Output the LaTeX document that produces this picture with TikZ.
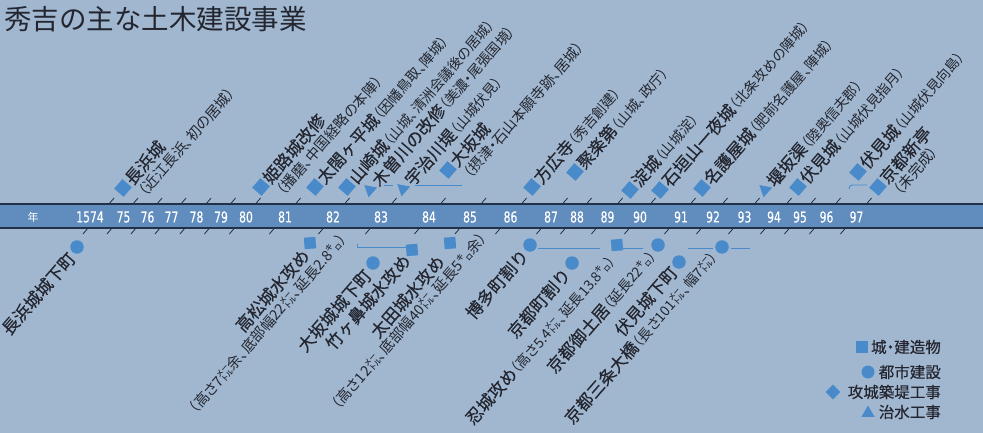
\documentclass[tikz,border=0pt]{standalone}
\usepackage{fontspec}
\setmainfont{Noto Sans CJK JP}
\newfontfamily\jpn{Noto Sans CJK JP}
\newfontfamily\jpb[FakeBold=0.3]{Noto Sans CJK JP}
\newfontfamily\jps[RawFeature=+palt]{Noto Sans CJK JP}
\newfontfamily\jpsb[RawFeature=+palt,FakeBold=0.4]{Noto Sans CJK JP}
\newfontfamily\yrfont[FakeStretch=0.72,FakeBold=0.4]{DejaVu Sans}
\usetikzlibrary{shapes.geometric,calc}
\definecolor{bg}{RGB}{161,183,207}
\definecolor{bandc}{RGB}{96,140,190}
\definecolor{edgec}{RGB}{34,48,72}
\definecolor{mk}{RGB}{72,138,202}
\definecolor{txt}{RGB}{35,38,48}
\tikzset{
 sqm/.style={fill=mk, rectangle, minimum size=12.5pt, inner sep=0, rotate=49},
 dia/.style={fill=mk, rectangle, minimum size=11.5pt, inner sep=0, rotate=4},
 cir/.style={fill=mk, circle, minimum size=13.5pt, inner sep=0},
 tri/.style={fill=mk, regular polygon, regular polygon sides=3, minimum size=15pt, inner sep=0, rotate=49},
 lbl/.style={rotate=49, inner sep=0, text=txt, font=\jpb\fontsize{17}{17}\selectfont},
 sub/.style={rotate=49, inner sep=0, text=txt, font=\jps\fontsize{14.5}{14.5}\selectfont},
 dur/.style={draw=mk, line width=0.9pt},
 tickl/.style={draw=edgec, line width=0.8pt},
 yr/.style={text=white, font=\yrfont\fontsize{15}{15}\selectfont, inner sep=0},
 leg/.style={text=txt, font=\jpsb\fontsize{15.5}{15.5}\selectfont, inner sep=0, anchor=east},
}
\newcommand\sm[1]{{\jps\fontsize{14}{14}\selectfont #1}}
\begin{document}
\begin{tikzpicture}[x=1pt,y=-1pt]
\fill[bg] (0,0) rectangle (983,433);
\useasboundingbox (0,0) rectangle (983,433);
% title
\node[anchor=west, inner sep=0, text=txt, font=\jpn\fontsize{27.5}{27.5}\selectfont] (title) at (4,19) {秀吉の主な土木建設事業};
% band
\fill[bandc] (0,204) rectangle (983,228);
\draw[edgec, line width=1.5pt] (0,204) -- (983,204);
\draw[edgec, line width=1.5pt] (0,228) -- (983,228);
\foreach \x in {98.5,122.5,146.5,170.5,195.5,220,245,285,334,381,430,470.5,511,552,576,607,640,680,712,744,776,800,825,856}{
  \draw[tickl] ({\x+11.3},203) -- ({\x+15.6},198);
  \draw[tickl] ({\x-11.3},229) -- ({\x-15.6},234);
}
\node[yr, font=\jpn\fontsize{11}{11}\selectfont] (nen) at (33,217) {年};
\foreach \x/\t [count=\i] in {90/1574,123.5/75,147.5/76,171.5/77,196.5/78,221/79,246/80,285/81,333/82,381/83,429/84,470/85,510.5/86,551/87,577/88,607.5/89,640/90,681/91,713/92,744.5/93,774/94,800/95,826.5/96,856.5/97}
  \node[yr] (y\i) at (\x,217) {\t};
% upper items
\node[sqm] (m1) at (123,188) {};
\node[lbl,anchor=west] (t1) at ($(m1)+(5,-6)$) {長浜城};
\node[sub,anchor=west] (s1) at ($(t1.west)+(13.6,11.8)$) {（近江長浜、初の居城）};
\node[sqm] (m2) at (261,187) {};
\node[lbl,anchor=west] (t2) at ($(m2)+(5,-6)$) {姫路城改修};
\node[sub,anchor=west] (s2) at ($(t2.west)+(13.6,11.8)$) {（播磨、中国経略の本陣）};
\node[sqm] (m3) at (315,187) {};
\node[lbl,anchor=west] (t3) at ($(m3)+(5,-6)$) {太閤ヶ平城\sm{（因幡鳥取、陣城）}};
\node[sqm] (m4) at (347,187) {};
\node[lbl,anchor=west] (t4) at ($(m4)+(5,-6)$) {山崎城\sm{（山城、清洲会議後の居城）}};
\node[tri] (m5) at (370,190) {};
\node[lbl,anchor=west] (t5) at ($(m5)+(5,-6)$) {木曽川の改修\sm{（美濃・尾張国境）}};
\node[tri] (m6) at (403,189) {};
\node[lbl,anchor=west] (t6) at ($(m6)+(5,-6)$) {宇治川堤\sm{（山城伏見）}};
\node[sqm] (m7) at (448,170) {};
\node[lbl,anchor=west] (t7) at ($(m7)+(5,-6)$) {大坂城};
\node[sub,anchor=west] (s7) at ($(t7.west)+(13.6,11.8)$) {（摂津・石山本願寺跡、居城）};
\node[sqm] (m8) at (532,187) {};
\node[lbl,anchor=west] (t8) at ($(m8)+(5,-6)$) {方広寺\sm{（秀吉創建）}};
\node[sqm] (m9) at (575,172) {};
\node[lbl,anchor=west] (t9) at ($(m9)+(5,-6)$) {聚楽第\sm{（山城、政庁）}};
\node[sqm] (m10) at (630,190) {};
\node[lbl,anchor=west] (t10) at ($(m10)+(5,-6)$) {淀城\sm{（山城淀）}};
\node[sqm] (m11) at (660,190) {};
\node[lbl,anchor=west] (t11) at ($(m11)+(5,-6)$) {石垣山一夜城\sm{（北条攻めの陣城）}};
\node[sqm] (m12) at (702,188) {};
\node[lbl,anchor=west] (t12) at ($(m12)+(5,-6)$) {名護屋城\sm{（肥前名護屋、陣城）}};
\node[tri] (m13) at (765,190) {};
\node[lbl,anchor=west] (t13) at ($(m13)+(5,-6)$) {堰坂渠\sm{（陸奥信夫郡）}};
\node[sqm] (m14) at (798,187) {};
\node[lbl,anchor=west] (t14) at ($(m14)+(5,-6)$) {伏見城\sm{（山城伏見指月）}};
\node[sqm] (m15) at (858,172) {};
\node[lbl,anchor=west] (t15) at ($(m15)+(5,-6)$) {伏見城\sm{（山城伏見向島）}};
\node[sqm] (m16) at (878,187) {};
\node[lbl,anchor=west] (t16) at ($(m16)+(5,-6)$) {京都新亭};
\node[sub,anchor=west] (s16) at ($(t16.west)+(13.6,11.8)$) {（未完成）};
% upper duration lines
\coordinate (a1) at (384,185); \coordinate (a2) at (393,185);
\draw[dur] (a1) -- (a2);
\coordinate (a3) at (415,185); \coordinate (a4) at (462,185);
\draw[dur] (a3) -- (a4);
\coordinate (a5) at (849,189); \coordinate (a6) at (867,185);
\draw[dur] (a5) .. controls (850,185) .. (855,185) -- (a6);
% lower items
\node[cir] (n17) at (77,247) {};
\node[lbl,anchor=east] (u17) at ($(n17)+(-5,8)$) {長浜城城下町};
\node[dia] (n18) at (310,243) {};
\node[lbl,anchor=east] (u18) at ($(n18)+(-4,9)$) {高松城水攻め};
\node[sub,anchor=east] (v18) at (344,236) {（高さ7㍍余、底部幅22㍍、延長2.8㌔）};
\node[cir] (n19) at (373,263) {};
\node[lbl,anchor=east] (u19) at ($(n19)+(-5,9)$) {大坂城城下町};
\node[dia] (n20) at (412,250) {};
\node[lbl,anchor=east] (u20) at ($(n20)+(-5,7)$) {竹ヶ鼻城水攻め};
\node[dia] (n21) at (450,243) {};
\node[lbl,anchor=east] (u21) at ($(n21)+(-9,15)$) {太田城水攻め};
\node[sub,anchor=east] (v21) at (484,235) {（高さ12㍍、底部幅40㍍、延長5㌔余）};
\node[cir] (n22) at (530,245) {};
\node[lbl,anchor=east] (u22) at ($(n22)+(-5,7)$) {博多町割り};
\node[cir] (n23) at (572,263) {};
\node[lbl,anchor=east] (u23) at ($(n23)+(-5,8)$) {京都町割り};
\node[dia] (n24) at (617,245) {};
\node[lbl,anchor=east] (u24) at ($(n24)+(-5,12)$) {忍城攻め\sm{（高さ5.4㍍、延長13.8㌔）}};
\node[cir] (n25) at (658,245) {};
\node[lbl,anchor=east] (u25) at ($(n25)+(-5,7)$) {京都御土居\sm{（延長22㌔）}};
\node[cir] (n26) at (679,262) {};
\node[lbl,anchor=east] (u26) at ($(n26)+(-5,7)$) {伏見城下町};
\node[cir] (n27) at (722,247) {};
\node[lbl,anchor=east] (u27) at ($(n27)+(-8,6)$) {京都三条大橋\sm{（長さ101㍍、幅7㍍）}};
% lower duration lines
\coordinate (b1) at (357.5,243.5); \coordinate (b2) at (357.5,247); \coordinate (b3) at (406,247);
\draw[dur] (b1) -- (b2) -- (b3);
\coordinate (b4) at (538,248); \coordinate (b5) at (600,248);
\draw[dur] (b4) -- (b5);
\coordinate (b6) at (623,248); \coordinate (b7) at (643,248);
\draw[dur] (b6) -- (b7);
\coordinate (b8) at (688,248); \coordinate (b9) at (713,248);
\draw[dur] (b8) -- (b9);
\coordinate (b10) at (731,248); \coordinate (b11) at (750,248);
\draw[dur] (b10) -- (b11);
% legend
\node[fill=mk, rectangle, minimum size=12pt, inner sep=0] (l1) at (862,347) {};
\node[leg] (lt1) at (941,347) {城・建造物};
\node[fill=mk, circle, minimum size=13pt, inner sep=0] (l2) at (868,372) {};
\node[leg] (lt2) at (941,372) {都市建設};
\node[fill=mk, diamond, minimum size=15pt, inner sep=0] (l3) at (833,392) {};
\node[leg] (lt3) at (941,392) {攻城築堤工事};
\node[fill=mk, regular polygon, regular polygon sides=3, minimum size=15pt, inner sep=0] (l4) at (868,413) {};
\node[leg] (lt4) at (941,412) {治水工事};
\end{tikzpicture}
\end{document}
